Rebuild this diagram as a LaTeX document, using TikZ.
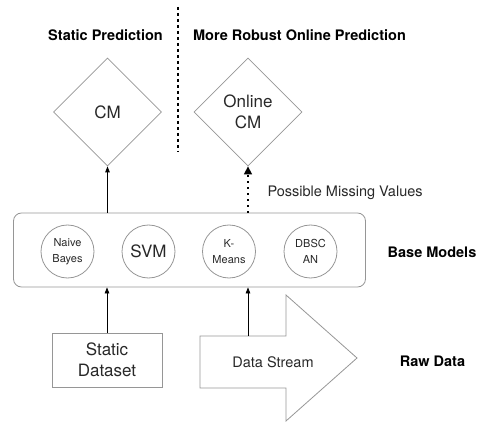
\documentclass[tikz,border=0pt]{standalone}
\usepackage{fontspec}
\setmainfont{TeX Gyre Heros}
\usetikzlibrary{shapes.geometric,arrows.meta}
\definecolor{shapegray}{RGB}{150,150,150}
\definecolor{textgray}{RGB}{40,40,40}
\tikzset{
    outline/.style={draw=shapegray, line width=0.8pt, text=textgray},
    cmnode/.style={outline, diamond, aspect=1, minimum width=108pt, minimum height=108pt, inner sep=0pt, align=center, font=\fontsize{17}{21}\selectfont},
    modelnode/.style={outline, circle, minimum size=53pt, inner sep=0pt, align=center, font=\fontsize{11}{15.5}\selectfont},
    header/.style={font=\fontsize{14.5}{17}\selectfont\bfseries},
    feed/.style={-{Triangle[width=4.5pt,length=6pt]}, black, line width=0.8pt}
}
\begin{document}
\begin{tikzpicture}[x=1pt, y=-1pt]
    \useasboundingbox (0,0) rectangle (482,422);

    % Split between the two settings
    \draw[black, line width=2pt, dash pattern=on 3pt off 3pt] (178,7) -- (178,152);
    \node[header] (statichead) at (105.5,35) {Static Prediction};
    \node[header] (onlinehead) at (299.5,35) {More Robust Online Prediction};

    % Combination models
    \node[cmnode] (cm) at (107.5,112) {CM};
    \node[cmnode] (onlinecm) at (248,112) {Online\\CM};

    % Base models
    \node[outline, rounded corners=8pt, minimum width=352pt, minimum height=74pt] (base) at (189.5,250) {};
    \foreach \name/\x/\sz/\txt in {nb/67.5/11/Naive\\Bayes, svm/148.5/17/SVM, km/229/11/K-\\Means, db/310.5/11/DBSC\\AN} {
        \node[modelnode, font=\fontsize{\sz}{15.5}\selectfont] (\name) at (\x,251.5) {\txt};
    }
    \node[header] (basehead) at (432,252) {Base Models};

    % Raw data
    \node[outline, minimum width=110pt, minimum height=54pt, inner sep=0pt, align=center, font=\fontsize{17}{21}\selectfont] (dataset) at (107,360) {Static\\Dataset};
    \draw[shapegray, line width=0.8pt] (200,336) -- (286,336) -- (286,295) -- (357,358) -- (286,421) -- (286,388) -- (200,388) -- cycle;
    \node[text=textgray, font=\fontsize{14.5}{17}\selectfont] (stream) at (273,362) {Data Stream};
    \coordinate (streamtop) at (248,336);
    \node[header] (rawhead) at (432.5,361) {Raw Data};

    % Flow
    \draw[feed] (dataset.north) -- (dataset.north |- base.south);
    \draw[feed] (streamtop) -- (streamtop |- base.south);
    \draw[feed] (cm.south |- base.north) -- (cm.south);
    \draw[black, line width=1.5pt, dash pattern=on 1.5pt off 4.5pt, -{Triangle[width=8pt,length=8pt]}] (onlinecm.south |- base.north) -- (onlinecm.south);
    \node[anchor=west, text=textgray, font=\fontsize{14.5}{17}\selectfont] (missing) at (264,193) {Possible Missing Values};
\end{tikzpicture}
\end{document}
